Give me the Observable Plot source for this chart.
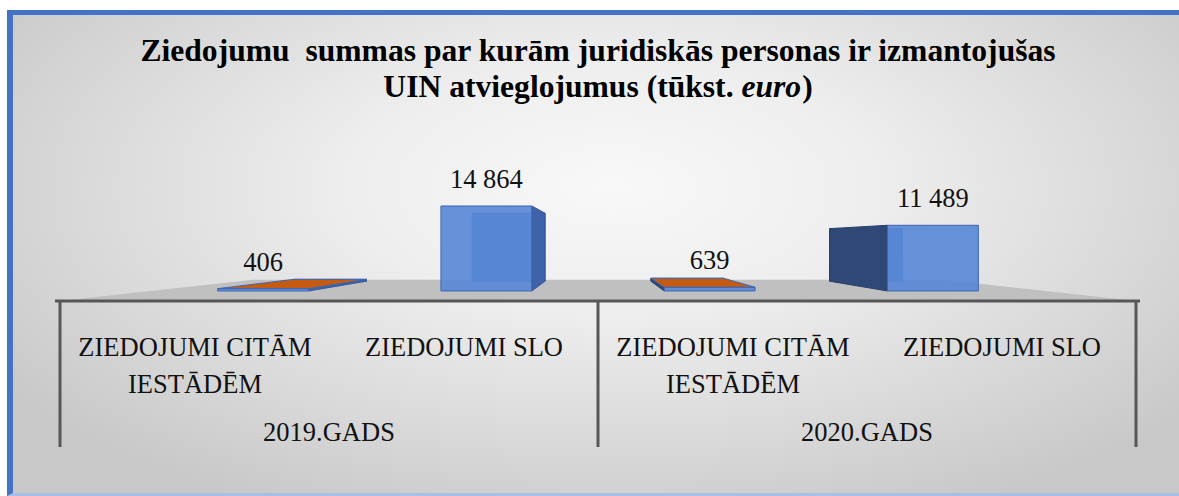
<!DOCTYPE html>
<html><head><meta charset="utf-8">
<script src="https://cdn.jsdelivr.net/npm/d3@7"></script>
<script src="https://cdn.jsdelivr.net/npm/@observablehq/plot@0.6"></script>
<style>
html,body{margin:0;padding:0;background:#fff;}
#wrap{position:relative;width:1179px;height:496px;overflow:hidden;}
#frame{position:absolute;left:7px;top:10px;width:1200px;height:478px;
  border-top:5px solid #4472C4;border-left:6px solid #4472C4;border-bottom:3px solid #a9bfe6;
  background:radial-gradient(ellipse 62% 75% at 50% 36%, #f8f8f8 0%, #eeeeee 35%, #dadada 70%, #c8c8c8 100%);}
#title{position:absolute;left:0;top:33px;width:1196px;text-align:center;
  font:bold 31.6px "Liberation Serif","Times New Roman",serif;line-height:36px;white-space:pre;color:#000;}
#title div{display:block;}
#title i{padding-right:1px;}
#chart{position:absolute;left:0;top:110px;}
</style></head>
<body><div id="wrap"><div id="frame"></div><div id="title"></div><div id="chart"></div></div>
<script>
// ---- data ----
const years = ["2019.GADS", "2020.GADS"];
const categories = ["ZIEDOJUMI CITĀM IESTĀDĒM", "ZIEDOJUMI SLO"];
const values2019 = [406, 14864];
const values2020 = [639, 11489];
const titleLine1 = "Ziedojumu  summas par kurām juridiskās personas ir izmantojušas";
const titleLine2a = "UIN atvieglojumus (tūkst. ";
const titleLine2b = "euro";
const titleLine2c = ")";

const seriesByYear = [values2019, values2020];
const rows = years.flatMap((yr, i) => categories.map((c, j) => ({
  year: yr, cat: c, key: yr + "|" + c, value: seriesByYear[i][j]
})));

const fmt = d3.formatLocale({decimal: ",", thousands: " ", grouping: [3], currency: ["", ""]}).format(",d");

// title
const t = document.getElementById("title");
const l1 = document.createElement("div"); l1.textContent = titleLine1; t.appendChild(l1);
const l2 = document.createElement("div");
const s2a = document.createElement("span"); s2a.textContent = titleLine2a; l2.appendChild(s2a);
const it = document.createElement("i"); it.textContent = titleLine2b; l2.appendChild(it);
const s2c = document.createElement("span"); s2c.textContent = titleLine2c; l2.appendChild(s2c);
t.appendChild(l2);

// ---- layout / style constants ----
const W = 1179, H = 386;
const AXIS_Y = 191;
const VP_Y = 132;
const S_FRONT = 0.83, S_BACK = 0.664, S_FLOOR = 0.64;
const BAR_FRAC = 0.407;
const FONT = "'Liberation Serif','Times New Roman',serif";

function wrap(s, n = 16) {
  const out = []; let line = "";
  for (const w of s.split(" ")) {
    if (line && (line + " " + w).length > n) { out.push(line); line = w; }
    else line = line ? line + " " + w : w;
  }
  out.push(line);
  return out.join("\n");
}

function scene(index, scales, values, dimensions, context) {
  const x = scales.x, y = scales.y;
  const [r0, r1] = x.range();
  const bw = x.bandwidth();
  const vx = (r0 + r1) / 2, vy = VP_Y;
  const P = (X, Y, s) => [vx + (X - vx) * s, vy + (Y - vy) * s];
  const y0 = y(0);
  const g = d3.create("svg:g");
  const poly = (pts, fill, stroke, op = 1) => g.append("polygon")
    .attr("points", pts.map(p => p.join(",")).join(" "))
    .attr("fill", fill).attr("fill-opacity", op)
    .attr("stroke", stroke || "none").attr("stroke-width", 1).attr("stroke-linejoin", "round");

  // floor
  poly([P(r0, y0, 1), P(r1, y0, 1), P(r1, y0, S_FLOOR), P(r0, y0, S_FLOOR)], "#c0c0c0");

  // bars
  for (const d of rows) {
    const cx = x(d.key) + bw / 2, hw = bw * BAR_FRAC / 2;
    const L = cx - hw, R = cx + hw, T = y(d.value), B = y0;
    const fTL = P(L, T, S_FRONT), fTR = P(R, T, S_FRONT), fBR = P(R, B, S_FRONT), fBL = P(L, B, S_FRONT);
    const bTL = P(L, T, S_BACK), bTR = P(R, T, S_BACK), bBR = P(R, B, S_BACK), bBL = P(L, B, S_BACK);
    poly([bTL, bTR, bBR, bBL], "#5382d2", "#3f69b5");
    if (cx < vx) poly([fTR, bTR, bBR, fBR], "#3f63a8", "#34579a");
    else poly([fTL, bTL, bBL, fBL], "#2f4878", "#27406b");
    if (fTL[1] > vy) poly([fTL, fTR, bTR, bTL], "#c55a11", "#3d67b4");
    poly([fTL, fTR, fBR, fBL], "#5886d5", "#3c66b5", 0.9);
    g.append("text")
      .attr("x", (fTL[0] + fTR[0]) / 2).attr("y", fTL[1] - 18)
      .attr("text-anchor", "middle").attr("font-family", FONT).attr("font-size", 26.5)
      .attr("fill", "#111").text(fmt(d.value));
  }

  // axis line
  g.append("line").attr("x1", r0 - 4).attr("x2", r1 + 3).attr("y1", y0).attr("y2", y0)
    .attr("stroke", "#575757").attr("stroke-width", 3);
  // group dividers & group labels
  const bounds = [];
  years.forEach((yr, i) => {
    const a = x(yr + "|" + categories[0]);
    const b = x(yr + "|" + categories[categories.length - 1]) + bw;
    bounds.push(a, b);
    g.append("text").attr("x", (a + b) / 2).attr("y", y0 + 140)
      .attr("text-anchor", "middle").attr("font-family", FONT).attr("font-size", 26.5)
      .attr("fill", "#111").text(yr);
  });
  for (const bx of Array.from(new Set(bounds.map(v => Math.round(v))))) {
    g.append("line").attr("x1", bx).attr("x2", bx).attr("y1", y0 - 1).attr("y2", y0 + 146)
      .attr("stroke", "#575757").attr("stroke-width", 3);
  }
  return g.node();
}

const chart = Plot.plot({
  width: W, height: H,
  marginTop: 0, marginLeft: 59, marginRight: W - 1137, marginBottom: H - AXIS_Y,
  style: {background: "transparent", fontFamily: FONT, color: "#111", overflow: "visible"},
  x: {type: "band", domain: rows.map(d => d.key), range: [59, 1137], padding: 0, axis: null},
  y: {domain: [0, 16000], range: [AXIS_Y, AXIS_Y - 110.2], axis: null},
  marks: [
    Plot.barY(rows, {x: "key", y: "value", fill: "none"}),
    scene,
    Plot.text(rows, {x: "key", text: d => wrap(d.cat), frameAnchor: "bottom", lineAnchor: "top",
      dy: 28, lineHeight: 1.4, fontSize: 26.5, fill: "#111", fontFamily: FONT})
  ]
});
document.getElementById("chart").appendChild(chart);
</script>
</body></html>
